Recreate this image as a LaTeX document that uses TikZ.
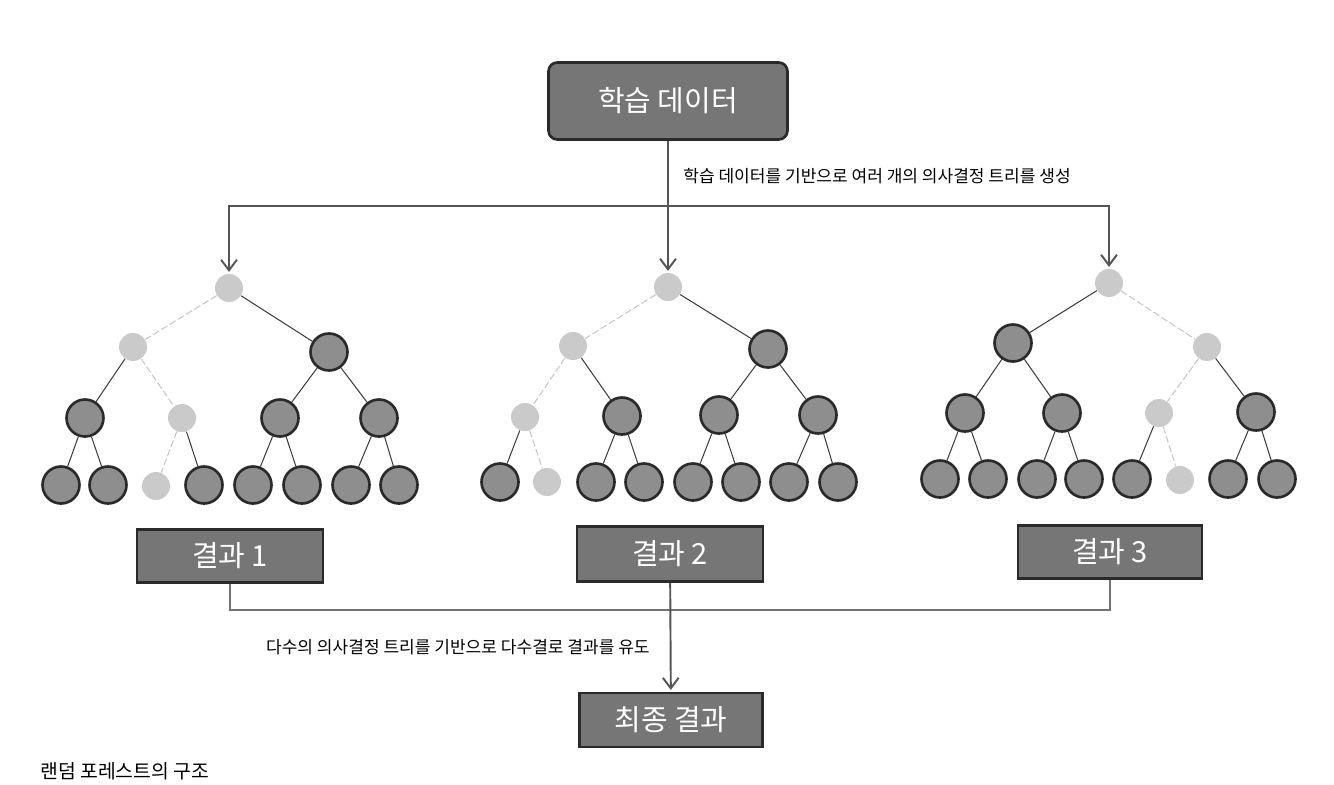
\documentclass[tikz,border=0pt]{standalone}
\usepackage{fontspec}
\setmainfont{Noto Sans CJK KR}
\usetikzlibrary{arrows.meta}
\definecolor{boxgray}{HTML}{767676}
\definecolor{boxline}{HTML}{2A2A2A}
\definecolor{nodegray}{HTML}{8E8E8E}
\definecolor{palegray}{HTML}{CACACA}
\definecolor{linegray}{HTML}{555555}
\tikzset{
  dnode/.style={circle,draw=boxline,line width=1.5pt,fill=nodegray,minimum size=0.74cm,inner sep=0pt},
  lnode/.style={circle,fill=palegray,minimum size=0.56cm,inner sep=0pt},
  dedge/.style={draw=boxline!90,line width=0.6pt},
  fedge/.style={draw=black!22,line width=0.6pt,dash pattern=on 4pt off 1.5pt},
  flow/.style={draw=linegray,line width=1.1pt,-{Straight Barb[length=6pt,width=9pt]}},
  link/.style={draw=black!55,line width=0.6pt},
  bigbox/.style={draw=boxline,line width=1.5pt,fill=boxgray,text=white,inner sep=0pt,
    font=\fontsize{16.5}{18}\selectfont},
  note/.style={font=\fontsize{9.7}{11}\selectfont,inner sep=0pt}
}
\begin{document}
\begin{tikzpicture}[x=0.02cm,y=-0.02cm]
    \useasboundingbox(0,0)rectangle(1334,784);
    % boxes
    \node[bigbox,rounded corners=5pt,minimum width=4.78cm,minimum height=1.54cm](data)at(668,101){학습 데이터};
    \node[bigbox,minimum width=3.72cm,minimum height=1.06cm](res1)at(230,556){결과 1};
    \node[bigbox,minimum width=3.72cm,minimum height=1.1cm](res2)at(670,554){결과 2};
    \node[bigbox,minimum width=3.68cm,minimum height=1.06cm](res3)at(1110,552){결과 3};
    \node[bigbox,minimum width=3.66cm,minimum height=1.08cm](final)at(671,720){최종 결과};
    % tree 1
    \node[lnode](t1n1)at(229,288){};
    \node[lnode](t1n2)at(133,347){};
    \node[dnode](t1n3)at(329,352){};
    \node[dnode](t1n4)at(85,418){};
    \node[lnode](t1n5)at(182,418){};
    \node[dnode](t1n6)at(280,418){};
    \node[dnode](t1n7)at(379,418){};
    \node[dnode](t1n8)at(61,485){};
    \node[dnode](t1n9)at(108,485){};
    \node[lnode](t1n10)at(156,486){};
    \node[dnode](t1n11)at(204,485){};
    \node[dnode](t1n12)at(253,485){};
    \node[dnode](t1n13)at(302,485){};
    \node[dnode](t1n14)at(351,485){};
    \node[dnode](t1n15)at(399,485){};
    \draw[fedge](t1n1)--(t1n2)(t1n2)--(t1n5)(t1n5)--(t1n10);
    \draw[dedge](t1n1)--(t1n3)(t1n2)--(t1n4)(t1n3)--(t1n6)(t1n3)--(t1n7)
        (t1n4)--(t1n8)(t1n4)--(t1n9)(t1n5)--(t1n11)(t1n6)--(t1n12)
        (t1n6)--(t1n13)(t1n7)--(t1n14)(t1n7)--(t1n15);
    % tree 2
    \node[lnode](t2n1)at(668,287){};
    \node[lnode](t2n2)at(573,346){};
    \node[dnode](t2n3)at(768,349){};
    \node[lnode](t2n4)at(525,417){};
    \node[dnode](t2n5)at(622,416){};
    \node[dnode](t2n6)at(719,415){};
    \node[dnode](t2n7)at(818,415){};
    \node[dnode](t2n8)at(500,482){};
    \node[lnode](t2n9)at(547,482){};
    \node[dnode](t2n10)at(596,482){};
    \node[dnode](t2n11)at(644,482){};
    \node[dnode](t2n12)at(693,482){};
    \node[dnode](t2n13)at(741,482){};
    \node[dnode](t2n14)at(789,482){};
    \node[dnode](t2n15)at(838,482){};
    \draw[fedge](t2n1)--(t2n2)(t2n2)--(t2n4)(t2n4)--(t2n9);
    \draw[dedge](t2n1)--(t2n3)(t2n2)--(t2n5)(t2n3)--(t2n6)(t2n3)--(t2n7)
        (t2n4)--(t2n8)(t2n5)--(t2n10)(t2n5)--(t2n11)(t2n6)--(t2n12)
        (t2n6)--(t2n13)(t2n7)--(t2n14)(t2n7)--(t2n15);
    % tree 3
    \node[lnode](t3n1)at(1109,283){};
    \node[dnode](t3n2)at(1013,343){};
    \node[lnode](t3n3)at(1207,347){};
    \node[dnode](t3n4)at(965,413){};
    \node[dnode](t3n5)at(1062,413){};
    \node[lnode](t3n6)at(1159,413){};
    \node[dnode](t3n7)at(1256,412){};
    \node[dnode](t3n8)at(940,479){};
    \node[dnode](t3n9)at(988,479){};
    \node[dnode](t3n10)at(1037,479){};
    \node[dnode](t3n11)at(1084,479){};
    \node[dnode](t3n12)at(1132,479){};
    \node[lnode](t3n13)at(1180,480){};
    \node[dnode](t3n14)at(1228,479){};
    \node[dnode](t3n15)at(1277,479){};
    \draw[fedge](t3n1)--(t3n3)(t3n3)--(t3n6)(t3n6)--(t3n13);
    \draw[dedge](t3n1)--(t3n2)(t3n2)--(t3n4)(t3n2)--(t3n5)(t3n3)--(t3n7)
        (t3n4)--(t3n8)(t3n4)--(t3n9)(t3n5)--(t3n10)(t3n5)--(t3n11)
        (t3n6)--(t3n12)(t3n7)--(t3n14)(t3n7)--(t3n15);
    % data to trees
    \coordinate(split)at(668,206);
    \draw[flow,shorten >=1pt](data)--(t2n1);
    \draw[flow,shorten >=1pt](split)-|(t1n1);
    \draw[flow,shorten >=1pt](split)-|(t3n1);
    \node[note,anchor=west](genlbl)at(683,176){학습 데이터를 기반으로 여러 개의 의사결정 트리를 생성};
    % results to final
    \coordinate(join)at(670,610);
    \draw[link](res1)|-(join)-|(res3);
    \draw[flow,shorten >=1pt](res2)--(final);
    \node[note,anchor=east](votelbl)at(650,647){다수의 의사결정 트리를 기반으로 다수결로 결과를 유도};
    % caption
    \node[anchor=base west,inner sep=0pt,font=\fontsize{11}{13}\selectfont](caption)at(40,778){랜덤 포레스트의 구조};
\end{tikzpicture}
\end{document}
